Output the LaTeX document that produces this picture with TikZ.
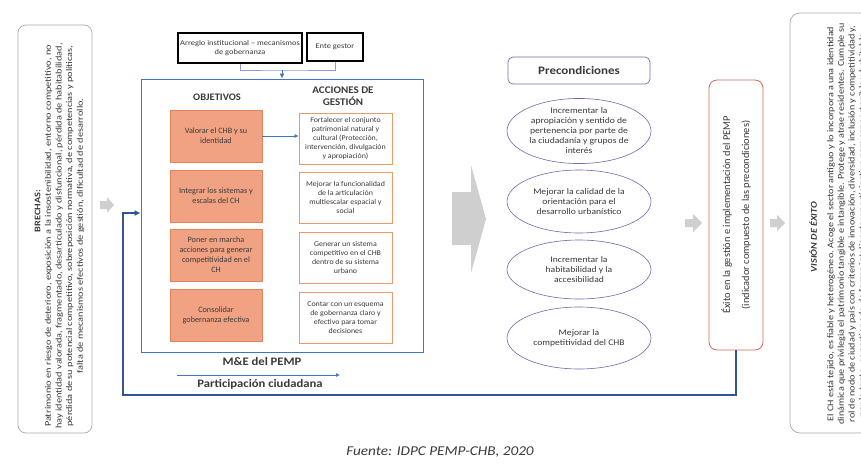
\documentclass[tikz,border=0pt]{standalone}
\usepackage{fontspec}
\setmainfont{Carlito}
\usetikzlibrary{arrows.meta,shapes.geometric}
\definecolor{mainblue}{HTML}{2F5597}
\definecolor{lightblue}{HTML}{4472C4}
\definecolor{brk}{HTML}{8E9BD6}
\definecolor{salmon}{HTML}{F0A283}
\definecolor{salmonline}{HTML}{E3835C}
\definecolor{orangeline}{HTML}{EE9A66}
\definecolor{purpleline}{HTML}{7565B0}
\definecolor{txt}{HTML}{3A3A3A}
\definecolor{graybox}{HTML}{A8A8B8}
\definecolor{exitoline}{HTML}{D46A58}
\definecolor{arrowgray}{HTML}{CFCFCF}
\newcommand\myfs[2]{\fontsize{#1}{#2}\selectfont}
\newcommand\mystr[1]{\addfontfeature{FakeStretch=#1}}
\tikzset{
  objbox/.style={draw=salmonline, fill=salmon, line width=0.6pt, minimum width=92, minimum height=52, align=center, inner sep=1pt, font=\myfs{8.2}{10}, text=txt},
  actbox/.style={draw=orangeline, fill=white, line width=0.8pt, minimum width=93, minimum height=51, align=center, inner sep=1pt, font=\myfs{7.4}{9}\mystr{1.07}, text=txt},
  precell/.style={ellipse, draw=purpleline, fill=white, line width=0.6pt, minimum width=144, minimum height=58, align=center, inner sep=0pt, font=\myfs{8.6}{10}\mystr{1.12}, text=txt},
  topbox/.style={draw=black, line width=1.1pt, fill=white, align=center, inner sep=1pt, font=\myfs{7.4}{9}\mystr{1.14}, text=txt},
  blockarrow/.style={fill=arrowgray, draw=none},
}
\begin{document}
\begin{tikzpicture}[x=1pt,y=-1pt]
\useasboundingbox (0,0) rectangle (861,466);
\clip (0,0) rectangle (861,466);
\fill[white] (0,0) rectangle (861,466);

% BRECHAS
\node[draw=graybox, rounded corners=8pt, line width=0.7pt, minimum width=74, minimum height=408, inner sep=0pt] (brbox) at (55,229) {};
\node[rotate=90, align=center, font=\myfs{8.6}{10.6}\mystr{1.2}, text=txt] (brechas) at (59.5,236) {\hspace*{50pt}\textbf{BRECHAS:}\\
Patrimonio en riesgo de deterioro, exposición a la insostenibilidad, entorno competitivo, no\\
hay identidad valorada, fragmentado, desarticulado y disfuncional, pérdida de habitabilidad,\\
pérdida de su potencial competitivo, sobreposición normativa, de competencias y políticas,\\
falta de mecanismos efectivos de gestión, dificultad de desarrollo.};

% small gray arrow
\fill[blockarrow, shift={(100,205)}] (0,-4) -- (7,-4) -- (7,-8) -- (14,0) -- (7,8) -- (7,4) -- (0,4) -- cycle;

% top boxes
\node[topbox, minimum width=124, minimum height=30] (arreglo) at (240,48) {Arreglo institucional – mecanismos\\de gobernanza};
\node[topbox, minimum width=56, minimum height=28] (ente) at (335,47) {Ente gestor};

% main box
\node[draw=lightblue, line width=0.9pt, minimum width=282, minimum height=273, inner sep=0pt] (main) at (282,215.5) {};
\coordinate (brkc) at (282,70);
\draw[brk, line width=1pt] (arreglo.south) |- (brkc) -| (ente.south);
\draw[lightblue, line width=1pt, -{Latex[length=5pt,width=5pt]}] (brkc) -- (main.north);

\node[font=\bfseries\myfs{10}{11}\mystr{1.05}, text=txt] (objt) at (217,97) {OBJETIVOS};
\node[font=\bfseries\myfs{10.2}{12}\mystr{1.08}, text=txt, align=center] (acct) at (343,96) {ACCIONES DE\\GESTIÓN};

\node[objbox] (obj1) at (216,136) {Valorar el CHB y su\\identidad};
\node[objbox] (obj2) at (216,196) {Integrar los sistemas y\\escalas del CH};
\node[objbox] (obj3) at (216,255) {Poner en marcha\\acciones para generar\\competitividad en el\\CH};
\node[objbox] (obj4) at (216,315) {Consolidar\\gobernanza efectiva};

\node[actbox] (act1) at (345.5,138.5) {Fortalecer el conjunto\\patrimonial natural y\\cultural (Protección,\\intervención, divulgación\\y apropiación)};
\node[actbox] (act2) at (345.5,197.5) {Mejorar la funcionalidad\\de la articulación\\multiescalar espacial y\\social};
\node[actbox] (act3) at (345.5,257.5) {Generar un sistema\\competitivo en el CHB\\dentro de su sistema\\urbano};
\node[actbox] (act4) at (345.5,317.5) {Contar con un esquema\\de gobernanza claro y\\efectivo para tomar\\decisiones};

\draw[lightblue, line width=0.7pt, -{Latex[length=4pt,width=4pt]}] (obj1.east) -- (obj1.east -| act1.west);

\node[font=\myfs{11.5}{13}\bfseries\mystr{1.1}, text=txt] (me) at (262,361) {M\&E del PEMP};
\coordinate (pa) at (177,375);
\coordinate (pb) at (340,375);
\draw[lightblue, line width=0.7pt, -{Latex[length=4pt,width=4pt]}] (pa) -- (pb);
\node[font=\myfs{11.5}{13}\bfseries\mystr{1.1}, text=txt] (part) at (260,384) {Participación ciudadana};

% big gray arrow
\fill[blockarrow] (452,192) -- (471,192) -- (471,165) -- (486,219) -- (471,273) -- (471,245) -- (452,245) -- cycle;

% Precondiciones
\node[draw=purpleline!80!gray, rounded corners=5pt, line width=0.7pt, minimum width=142, minimum height=27, font=\myfs{11.5}{13}\bfseries\mystr{1.13}, text=txt] (prec) at (579,70.5) {Precondiciones};
\node[precell] (e1) at (579,131) {Incrementar la\\apropiación y sentido de\\pertenencia por parte de\\la ciudadanía y grupos de\\interés};
\node[precell, minimum height=63] (e2) at (579,201.5) {Mejorar la calidad de la\\orientación para el\\desarrollo urbanístico};
\node[precell, minimum height=59] (e3) at (579,269.5) {Incrementar la\\habitabilidad y la\\accesibilidad};
\node[precell, minimum height=62] (e4) at (579,338) {Mejorar la\\competitividad del CHB};

% arrow to Exito
\fill[blockarrow, shift={(685,223)}] (0,-4) -- (8,-4) -- (8,-9) -- (17,0) -- (8,9) -- (8,4) -- (0,4) -- cycle;

% Exito
\node[draw=exitoline, rounded corners=8pt, line width=0.8pt, rotate=90, minimum width=270, minimum height=54, align=center, font=\myfs{10.4}{19}, text=txt] (exito) at (736,215) {Éxito en la gestión e implementación del PEMP\\(indicador compuesto de las precondiciones)};

% arrow to Vision
\fill[blockarrow, shift={(770,223)}] (0,-4) -- (7,-4) -- (7,-8) -- (15,0) -- (7,8) -- (7,4) -- (0,4) -- cycle;

% Vision
\node[draw=graybox, rounded corners=10pt, line width=0.7pt, minimum width=80, minimum height=420, inner sep=0pt] (visbox) at (830,223) {};
\node[rotate=90, align=center, font=\myfs{8.9}{10.6}\mystr{1.14}, text=txt] (vision) at (838,224) {\textbf{\textit{VISIÓN DE ÉXITO}}\hspace*{26pt}\\[6pt]
El CH está tejido, es fiable y heterogéneo. Acoge el sector antiguo y lo incorpora a una identidad\\
dinámica que privilegia el patrimonio tangible e intangible. Protege y atrae residentes. Cumple su\\
rol de nodo de ciudad y país con criterios de innovación, diversidad, inclusión y competitividad y,\\
por lo tanto, es gestionado de forma inteligente y participativa para ser sostenible y habitable.};

% feedback loop
\coordinate (lp1) at (123,395);
\coordinate (lp2) at (123,213);
\draw[mainblue, line width=2pt, -{Latex[length=6pt,width=6pt]}] (exito.west) |- (lp1) -- (lp2) -- (lp2 -| main.west);

% caption
\node[font=\myfs{13.5}{15}\itshape\mystr{1.13}, text=txt] (cap) at (440,452) {Fuente: IDPC PEMP-CHB, 2020};
\end{tikzpicture}
\end{document}
